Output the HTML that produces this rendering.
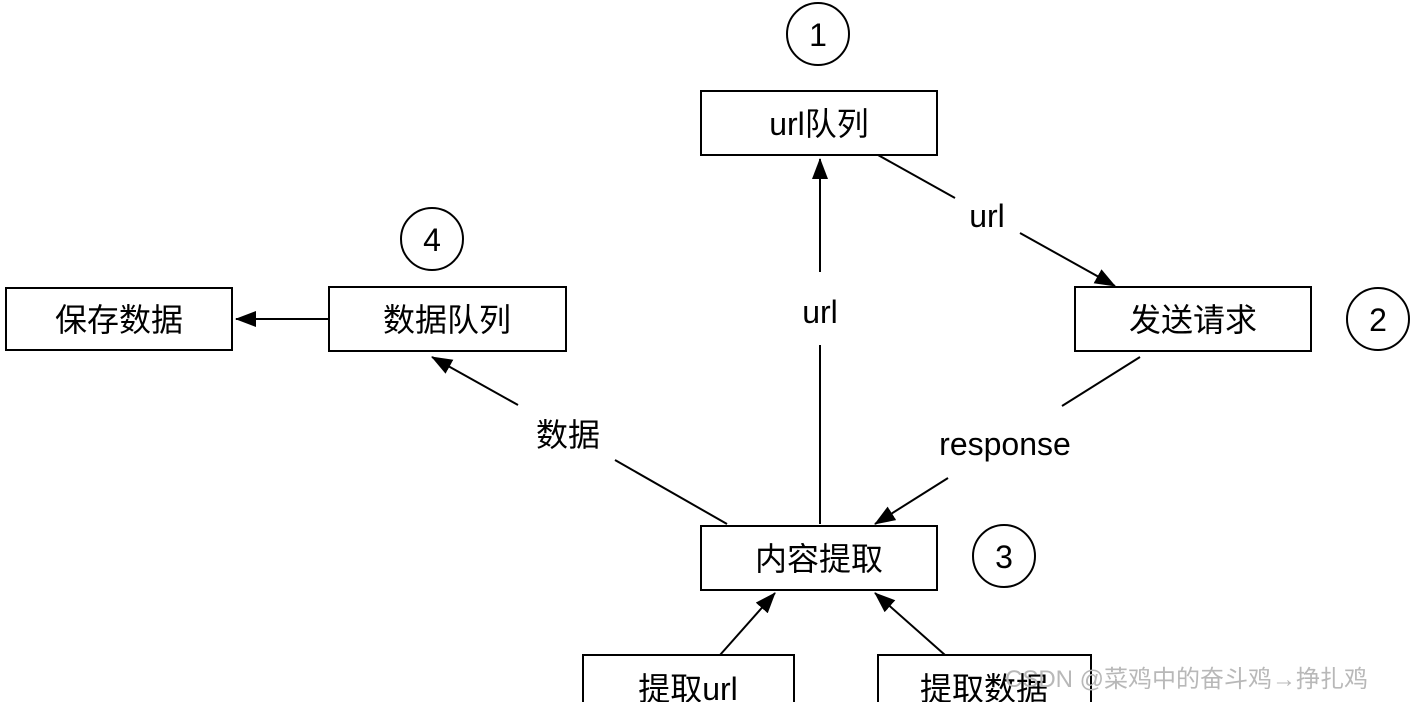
<!DOCTYPE html>
<html><head><meta charset="utf-8"><style>
html,body{margin:0;padding:0;background:#fff;}
svg{display:block;}
text{font-family:"Liberation Sans","Noto Sans CJK SC",sans-serif;fill:#000;}
</style></head><body>
<svg width="1416" height="702" viewBox="0 0 1416 702" xmlns="http://www.w3.org/2000/svg">
<defs><marker id="a" markerWidth="12" markerHeight="10" refX="11" refY="5" orient="auto" markerUnits="userSpaceOnUse"><path d="M0,0 L12,5 L0,10 z" fill="#000"/></marker>
<marker id="b" markerWidth="22" markerHeight="16" refX="20" refY="8" orient="auto" markerUnits="userSpaceOnUse"><path d="M0,0 L21,8 L0,16 z" fill="#000"/></marker></defs>
<g fill="#fff" stroke="#000" stroke-width="2">
<rect x="701" y="91" width="236" height="64"/>
<rect x="1075" y="287" width="236" height="64"/>
<rect x="6" y="288" width="226" height="62"/>
<rect x="329" y="287" width="237" height="64"/>
<rect x="701" y="526" width="236" height="64"/>
<rect x="583" y="655" width="211" height="60"/>
<rect x="878" y="655" width="213" height="60"/>
<circle cx="818" cy="34" r="31"/>
<circle cx="1378" cy="319" r="31"/>
<circle cx="432" cy="239" r="31"/>
<circle cx="1004" cy="556" r="31"/>
</g>
<g stroke="#000" stroke-width="2" fill="none">
<line x1="329" y1="319" x2="236" y2="319" marker-end="url(#b)"/>
<line x1="820" y1="524" x2="820" y2="345"/>
<line x1="820" y1="272" x2="820" y2="159" marker-end="url(#b)"/>
<line x1="878" y1="155" x2="955" y2="198"/>
<line x1="1020" y1="233" x2="1115" y2="286" marker-end="url(#b)"/>
<line x1="1140" y1="357" x2="1062" y2="406"/>
<line x1="948" y1="478" x2="875" y2="524" marker-end="url(#b)"/>
<line x1="727" y1="524" x2="615" y2="460"/>
<line x1="518" y1="405" x2="432" y2="357" marker-end="url(#b)"/>
<line x1="720" y1="655" x2="775" y2="593" marker-end="url(#b)"/>
<line x1="945" y1="655" x2="875" y2="593" marker-end="url(#b)"/>
</g>
<g font-size="32" text-anchor="middle">
<text x="818" y="46">1</text>
<text x="1378" y="331">2</text>
<text x="432" y="251">4</text>
<text x="1004" y="568">3</text>
<text x="819" y="135">url队列</text>
<text x="1193" y="331">发送请求</text>
<text x="119" y="331">保存数据</text>
<text x="447" y="331">数据队列</text>
<text x="819" y="570">内容提取</text>
<text x="688" y="700">提取url</text>
<text x="984" y="700">提取数据</text>
<text x="820" y="323">url</text>
<text x="987" y="227">url</text>
<text x="1005" y="455">response</text>
<text x="568" y="446">数据</text>
</g>
<text x="1005" y="687" font-size="24" fill="#bbb" style="fill:#b8b8b8">CSDN @菜鸡中的奋斗鸡→挣扎鸡</text>
</svg>
</body></html>
